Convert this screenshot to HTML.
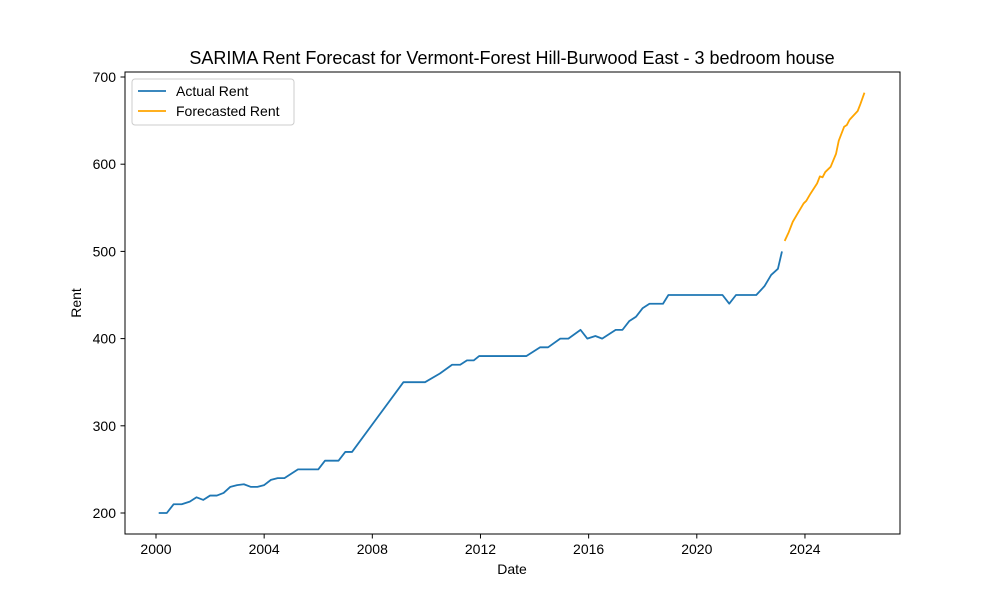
<!DOCTYPE html>
<html><head><meta charset="utf-8"><style>
body{margin:0;background:#fff}
svg text{font-family:"Liberation Sans","DejaVu Sans",sans-serif;fill:#000}
</style></head><body>
<svg id="chart" width="1000" height="600">
<rect x="0" y="0" width="1000" height="600" fill="#fff"/>
<text x="512" y="64" font-size="18" text-anchor="middle">SARIMA Rent Forecast for Vermont-Forest Hill-Burwood East - 3 bedroom house</text>
<text x="512" y="574" font-size="14" text-anchor="middle">Date</text>
<text x="81" y="303" font-size="14" text-anchor="middle" transform="rotate(-90 81 303)">Rent</text>
<g id="ticks"></g>
<g id="series"></g>
<rect x="125" y="72" width="775" height="462" fill="none" stroke="#000" stroke-width="1"/>
<g>
<rect x="132" y="79" width="162" height="46" fill="#fff" stroke="#ccc" rx="3"/>
<line x1="138" y1="91" x2="166" y2="91" stroke="#1f77b4" stroke-width="1.8"/>
<text x="176" y="96" font-size="14">Actual Rent</text>
<line x1="138" y1="111" x2="166" y2="111" stroke="orange" stroke-width="1.8"/>
<text x="176" y="116" font-size="14">Forecasted Rent</text>
</g>
</svg>
<script>
const actualDates=[2000.1,2000.4,2000.65,2000.95,2001.25,2001.5,2001.75,2002,2002.25,2002.5,2002.75,2003,2003.25,2003.5,2003.75,2004,2004.25,2004.5,2004.75,2005,2005.25,2005.5,2005.75,2006,2006.25,2006.5,2006.75,2007,2007.25,2009.15,2009.5,2009.95,2010.5,2010.95,2011.25,2011.5,2011.75,2011.95,2012.5,2013,2013.7,2014.2,2014.5,2014.95,2015.25,2015.7,2015.95,2016.25,2016.5,2017,2017.25,2017.5,2017.75,2018,2018.25,2018.5,2018.75,2018.95,2020,2020.95,2021.2,2021.45,2022,2022.2,2022.5,2022.75,2023,2023.15];
const actualRent=[200,200,210,210,213,218,215,220,220,223,230,232,233,230,230,232,238,240,240,245,250,250,250,250,260,260,260,270,270,350,350,350,360,370,370,375,375,380,380,380,380,390,390,400,400,410,400,403,400,410,410,420,425,435,440,440,440,450,450,450,440,450,450,450,460,473,480,500];
const forecastDates=[2023.25,2023.4,2023.55,2023.7,2023.95,2024.05,2024.2,2024.45,2024.55,2024.65,2024.75,2024.95,2025.15,2025.25,2025.45,2025.55,2025.65,2025.95,2026.05,2026.2];
const forecastRent=[512,522,534,542,555,558,566,578,586,585,591,597,612,627,643,645,651,661,669,682];
const xTicks=[2000,2004,2008,2012,2016,2020,2024];
const yTicks=[200,300,400,500,600,700];
const x=d=>156+(d-2000)*27.04;
const y=v=>513-(v-200)*0.872;
const NS="http://www.w3.org/2000/svg";
const tg=document.getElementById('ticks');
xTicks.forEach(t=>{
 const l=document.createElementNS(NS,'line');
 l.setAttribute('x1',x(t));l.setAttribute('x2',x(t));l.setAttribute('y1',534);l.setAttribute('y2',538.5);l.setAttribute('stroke','#000');
 
 
 tg.appendChild(l);
 const tx=document.createElementNS(NS,'text');
 tx.setAttribute('x',x(t));tx.setAttribute('y',554);tx.setAttribute('font-size','14');tx.setAttribute('text-anchor','middle');tx.textContent=t;
 
 
 tg.appendChild(tx);
});
yTicks.forEach(t=>{
 const l=document.createElementNS(NS,'line');
 l.setAttribute('x1',120.5);l.setAttribute('x2',125);l.setAttribute('y1',y(t));l.setAttribute('y2',y(t));l.setAttribute('stroke','#000');
 
 
 tg.appendChild(l);
 const tx=document.createElementNS(NS,'text');
 tx.setAttribute('x',116);tx.setAttribute('y',y(t)+5);tx.setAttribute('font-size','14');tx.setAttribute('text-anchor','end');tx.textContent=t;
 
 
 tg.appendChild(tx);
});
const sg=document.getElementById('series');
function line(ds,vs,color,name){
 const p=document.createElementNS(NS,'polyline');
 p.setAttribute('points',ds.map((d,i)=>x(d)+','+y(vs[i])).join(' '));
 p.setAttribute('fill','none');p.setAttribute('stroke',color);p.setAttribute('stroke-width','1.8');p.setAttribute('stroke-linejoin','round');
 
 
 sg.appendChild(p);
}
line(actualDates,actualRent,'#1f77b4','actual-rent-line');
line(forecastDates,forecastRent,'orange','forecast-rent-line');
</script>
</body></html>
